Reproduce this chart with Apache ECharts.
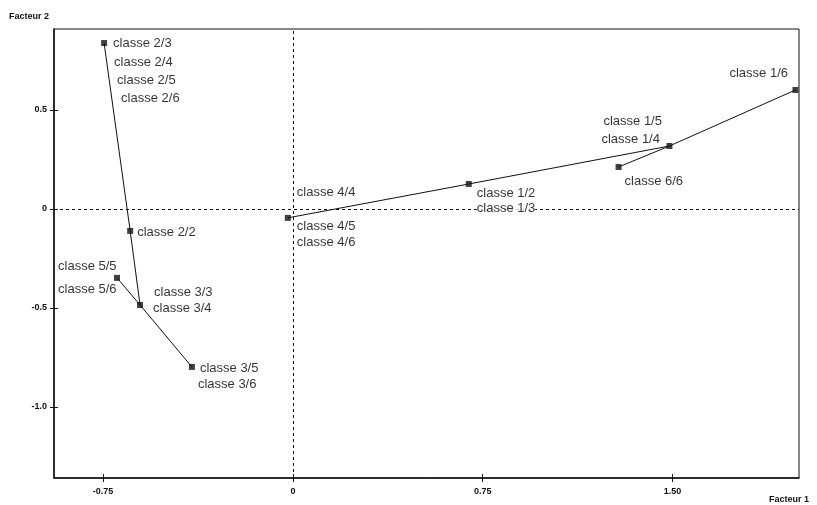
<!DOCTYPE html>
<html>
<head>
<meta charset="utf-8">
<script src="https://cdn.jsdelivr.net/npm/echarts@6/dist/echarts.min.js"></script>
<style>
  html, body { margin: 0; padding: 0; background: #fff; }
  #main { width: 817px; height: 505px; }
</style>
</head>
<body>
<div id="main"></div>
<script>
// coordonnées des points (Facteur 1, Facteur 2)
var pointNames = ['2/3', '2/2', '3/3', '3/5', '5/5', '4/4', '1/2', '1/4', '6/6', '1/6'];
var factor1 = [-0.746, -0.643, -0.604, -0.399, -0.695, -0.020, 0.695, 1.488, 1.287, 1.986];
var factor2 = [0.838, -0.111, -0.485, -0.798, -0.348, -0.045, 0.126, 0.318, 0.212, 0.601];

// trajectoires (indices dans pointNames)
var paths = [[0, 1, 2, 3], [4, 2], [5, 6, 7, 9], [8, 7]];

// étiquettes et point auquel chacune est rattachée
var labelTexts = ['classe 2/3', 'classe 2/4', 'classe 2/5', 'classe 2/6', 'classe 2/2',
  'classe 3/3', 'classe 3/4', 'classe 3/5', 'classe 3/6', 'classe 5/5', 'classe 5/6',
  'classe 4/4', 'classe 4/5', 'classe 4/6', 'classe 1/2', 'classe 1/3',
  'classe 1/5', 'classe 1/4', 'classe 6/6', 'classe 1/6'];
var labelAnchor = [0, 0, 0, 0, 1, 2, 2, 3, 3, 4, 4, 5, 5, 5, 6, 6, 7, 7, 8, 9];
// décalage en pixels du texte par rapport au point
var labelOffsets = [[9, 0], [10, 19], [13, 37], [17, 55], [7, 1], [14, -13], [13, 3],
  [8, 1], [6, 17], [-59, -11], [-59, 12], [9, -25], [9, 9], [9, 25], [8, 9], [8, 24],
  [-66, -25], [-68, -7], [6, 14], [-66, -17]];

var xTicks = [-0.75, 0, 0.75, 1.5];
var xTickLabels = ['-0.75', '0', '0.75', '1.50'];
var yTicks = [-1.0, -0.5, 0, 0.5];
var yTickLabels = ['-1.0', '-0.5', '0', '0.5'];

var myChart = echarts.init(document.getElementById('main'));

var tickFont = { fontFamily: 'Liberation Sans, Arial', fontSize: 9, fontWeight: 'bold', color: '#111' };

var series = [];
paths.forEach(function (p) {
  series.push({
    type: 'line',
    data: p.map(function (i) { return [factor1[i], factor2[i]]; }),
    symbol: 'none',
    lineStyle: { color: '#111', width: 1 },
    silent: true,
    z: 3
  });
});

series.push({
  type: 'scatter',
  data: pointNames.map(function (n, i) { return { name: n, value: [factor1[i], factor2[i]] }; }),
  symbol: 'rect',
  symbolSize: 6,
  itemStyle: { color: '#111' },
  z: 4,
  markLine: {
    silent: true,
    z: 1,
    symbol: 'none',
    label: { show: false },
    lineStyle: { color: '#111', type: [3, 3], width: 1 },
    data: [{ xAxis: 0 }, { yAxis: 0 }]
  }
});

series.push({
  type: 'scatter',
  symbolSize: 0,
  silent: true,
  z: 5,
  data: labelTexts.map(function (t, k) {
    var i = labelAnchor[k];
    return {
      value: [factor1[i], factor2[i]],
      label: { position: labelOffsets[k] }
    };
  }),
  label: {
    show: true,
    formatter: function (p) { return labelTexts[p.dataIndex]; },
    align: 'left',
    verticalAlign: 'middle',
    fontFamily: 'Liberation Sans, Arial',
    fontSize: 13,
    color: '#000',
    backgroundColor: '#fff'
  }
});

var option = {
  animation: false,
  backgroundColor: '#fff',
  grid: {
    left: 54, right: 18, top: 29, bottom: 27,
    show: true, borderColor: '#111', borderWidth: 1
  },
  xAxis: [{
    type: 'value', min: -0.944, max: 2.0,
    axisLine: { show: true, onZero: false, lineStyle: { color: '#111', width: 1.5 } },
    axisTick: { show: true, length: 4, customValues: xTicks, lineStyle: { color: '#111' } },
    axisLabel: Object.assign({
      customValues: xTicks, margin: 9,
      formatter: function (v) { return xTickLabels[xTicks.indexOf(v)]; }
    }, tickFont),
    splitLine: { show: false }
  }, {
    type: 'value', min: -0.944, max: 2.0, position: 'bottom',
    axisLine: { show: false, onZero: false },
    axisTick: { show: true, inside: true, length: 4, customValues: xTicks, lineStyle: { color: '#111' } },
    axisLabel: { show: false },
    splitLine: { show: false }
  }],
  yAxis: [{
    type: 'value', min: -1.359, max: 0.909,
    axisLine: { show: true, onZero: false, lineStyle: { color: '#111', width: 1.5 } },
    axisTick: { show: true, length: 4, customValues: yTicks, lineStyle: { color: '#111' } },
    axisLabel: Object.assign({
      customValues: yTicks, margin: 7,
      formatter: function (v) { return yTickLabels[yTicks.indexOf(v)]; }
    }, tickFont),
    splitLine: { show: false }
  }, {
    type: 'value', min: -1.359, max: 0.909, position: 'left',
    axisLine: { show: false, onZero: false },
    axisTick: { show: true, inside: true, length: 4, customValues: yTicks, lineStyle: { color: '#111' } },
    axisLabel: { show: false },
    splitLine: { show: false }
  }],
  graphic: [
    { type: 'text', left: 9, top: 12, style: { text: 'Facteur 2', font: 'bold 9px Liberation Sans, Arial', fill: '#111' } },
    { type: 'text', left: 769, top: 495, style: { text: 'Facteur 1', font: 'bold 9px Liberation Sans, Arial', fill: '#111' } }
  ],
  series: series
};

myChart.setOption(option);
</script>
</body>
</html>
